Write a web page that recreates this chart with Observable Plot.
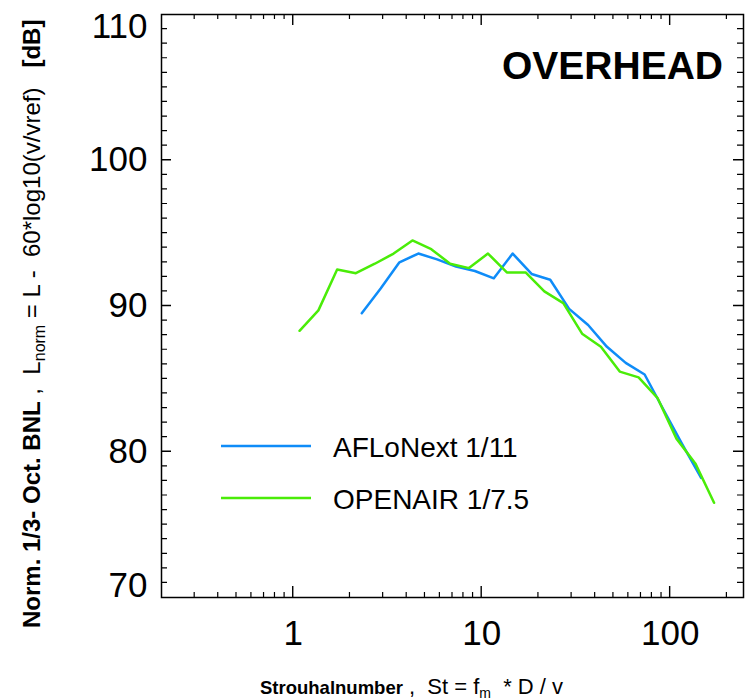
<!DOCTYPE html>
<html><head><meta charset="utf-8">
<script src="https://cdn.jsdelivr.net/npm/d3@7"></script>
<script src="https://cdn.jsdelivr.net/npm/@observablehq/plot@0.6"></script>
<style>body{margin:0;background:#fff} #chart{position:relative;width:748px;height:700px} #chart svg{position:absolute;left:0;top:0}</style>
</head><body><div id="chart"></div>
<script>
// ---- data ----
const seriesNames = ["AFLoNext 1/11", "OPENAIR 1/7.5"];
const seriesColors = ["#0f8cf8", "#4aec08"];
const afloSt = [2.31, 2.91, 3.66, 4.61, 5.80, 7.31, 9.20, 11.6, 14.6, 18.4, 23.1, 29.1, 36.7, 46.2, 58.1, 73.2, 92.1, 116, 146];
const afloL  = [89.5, 91.2, 93.0, 93.6, 93.2, 92.7, 92.4, 91.9, 93.6, 92.2, 91.8, 89.8, 88.7, 87.2, 86.1, 85.3, 82.9, 80.5, 78.2];
const openSt = [1.08, 1.36, 1.71, 2.15, 2.71, 3.41, 4.29, 5.40, 6.80, 8.56, 10.8, 13.6, 17.1, 21.5, 27.1, 34.1, 42.9, 54.0, 68.0, 85.6, 108, 136, 171];
const openL  = [88.3, 89.7, 92.5, 92.25, 92.9, 93.6, 94.5, 93.9, 92.9, 92.6, 93.6, 92.3, 92.3, 91.0, 90.2, 88.1, 87.2, 85.5, 85.1, 83.7, 80.9, 79.2, 76.5];
const xMajorTicks = [1, 10, 100];
const yMajorTicks = [70, 80, 90, 100, 110];
const xDomain = [0.2, 245];
const yDomain = [70, 110];
const titleText = "OVERHEAD";

// ---- derived tables ----
const afloData = afloSt.map((s, i) => ({st: s, L: afloL[i]}));
const openData = openSt.map((s, i) => ({st: s, L: openL[i]}));
const xMinorTicks = [];
for (const d of [0.1, 1, 10, 100]) for (let k = 2; k <= 9; k++) {
  const v = +(d * k).toPrecision(3);
  if (v > xDomain[0] && v < xDomain[1]) xMinorTicks.push(v);
}
const yMinorTicks = d3.range(yDomain[0] + 1, yDomain[1]).filter(v => v % 10 !== 0);
const yInnerTicks = yMajorTicks.filter(v => v > yDomain[0] && v < yDomain[1]);

const plotW = 748, plotH = 700;
const mL = 161, mR = 5, mT = 14, mB = 103;
const minorLen = 5, majorLen = 11, yMinorLen = 6, yMajorLen = 10;
const font = "'Liberation Sans', Arial, sans-serif";

const svg = Plot.plot({
  width: plotW, height: plotH,
  marginLeft: mL, marginRight: mR, marginTop: mT, marginBottom: mB,
  style: {fontFamily: font, fontSize: "35px", background: "#fff"},
  x: {type: "log", domain: xDomain},
  y: {domain: yDomain},
  marks: [
    Plot.line(afloData, {x: "st", y: "L", stroke: seriesColors[0], strokeWidth: 2.5}),
    Plot.line(openData, {x: "st", y: "L", stroke: seriesColors[1], strokeWidth: 2.5}),
    Plot.axisX({ticks: xMajorTicks, tickSize: 0, tickPadding: 23, tickFormat: d => String(d), label: null, fontSize: 35}),
    Plot.axisY({ticks: yInnerTicks, tickSize: 0, tickPadding: 14, tickFormat: d => String(d), label: null, fontSize: 35}),
    Plot.axisY({ticks: [yDomain[1]], tickSize: 0, tickPadding: 14, tickFormat: d => String(d), label: null, fontSize: 35, dy: 12}),
    Plot.axisY({ticks: [yDomain[0]], tickSize: 0, tickPadding: 14, tickFormat: d => String(d), label: null, fontSize: 35, dy: -12}),
    Plot.frame({stroke: "black", strokeWidth: 1.5})
  ]
});

const s = d3.select(svg);
// title
s.append("text").attr("x", 723).attr("y", 79).attr("text-anchor", "end")
  .attr("font-family", font).attr("font-size", 39).attr("font-weight", "bold").attr("fill", "black")
  .text(titleText);

// legend
const legY = [446, 498];
seriesNames.forEach((name, i) => {
  s.append("line").attr("x1", 221).attr("x2", 311).attr("y1", legY[i]).attr("y2", legY[i])
    .attr("stroke", seriesColors[i]).attr("stroke-width", 2.5);
  s.append("text").attr("x", 333).attr("y", legY[i] + 11).attr("text-anchor", "start")
    .attr("font-family", font).attr("font-size", 28).attr("fill", "black").text(name);
});

// x label
const xl = s.append("text").attr("x", 260).attr("y", 694).attr("text-anchor", "start")
  .attr("font-family", font).attr("font-size", 22).attr("fill", "black");
xl.append("tspan").attr("font-weight", "bold").attr("font-size", 18.5).text("Strouhalnumber");
xl.append("tspan").text(" ,  St = f");
xl.append("tspan").attr("font-size", 14).attr("dy", 4).text("m");
xl.append("tspan").attr("dy", -4).text("  * D / v");

// y label
const yl = s.append("text").attr("transform", "translate(40,628) rotate(-90)").attr("text-anchor", "start")
  .attr("font-family", font).attr("font-size", 24).attr("fill", "black");
yl.append("tspan").attr("font-weight", "bold").text("Norm. 1/3- Oct. BNL");
yl.append("tspan").text(" ,  L");
yl.append("tspan").attr("font-size", 16).attr("dy", 5).text("norm");
yl.append("tspan").attr("dy", -5).text(" = L -  60*log10(v/vref)   ");
yl.append("tspan").attr("font-weight", "bold").text("[dB]");

const chart = document.getElementById("chart");
chart.appendChild(svg);

// inward frame ticks in an overlay layer, positioned through the plot's own scales
const xs = svg.scale("x"), ys = svg.scale("y");
const X0 = xs.apply(xDomain[0]), X1 = xs.apply(xDomain[1]);
const Y0 = ys.apply(yDomain[0]), Y1 = ys.apply(yDomain[1]);
const overlay = d3.create("svg").attr("width", plotW).attr("height", plotH)
  .attr("viewBox", `0 0 ${plotW} ${plotH}`).style("pointer-events", "none");
const tickPath = [];
const thin = [], thick = [];
xMinorTicks.forEach(v => { const X = xs.apply(v); thin.push(`M${X},${Y0}V${Y0 - minorLen}M${X},${Y1}V${Y1 + minorLen}`); });
xMajorTicks.forEach(v => { const X = xs.apply(v); thick.push(`M${X},${Y0}V${Y0 - majorLen}M${X},${Y1}V${Y1 + majorLen}`); });
yMinorTicks.forEach(v => { const Y = ys.apply(v); thin.push(`M${X0},${Y}H${X0 + yMinorLen}M${X1},${Y}H${X1 - yMinorLen}`); });
yInnerTicks.forEach(v => { const Y = ys.apply(v); thick.push(`M${X0},${Y}H${X0 + yMajorLen}M${X1},${Y}H${X1 - yMajorLen}`); });
overlay.append("path").attr("d", thin.join("")).attr("fill", "none").attr("stroke", "#000").attr("stroke-width", 1.2);
overlay.append("path").attr("d", thick.join("")).attr("fill", "none").attr("stroke", "#000").attr("stroke-width", 1.4);
chart.appendChild(overlay.node());
</script>
</body></html>
